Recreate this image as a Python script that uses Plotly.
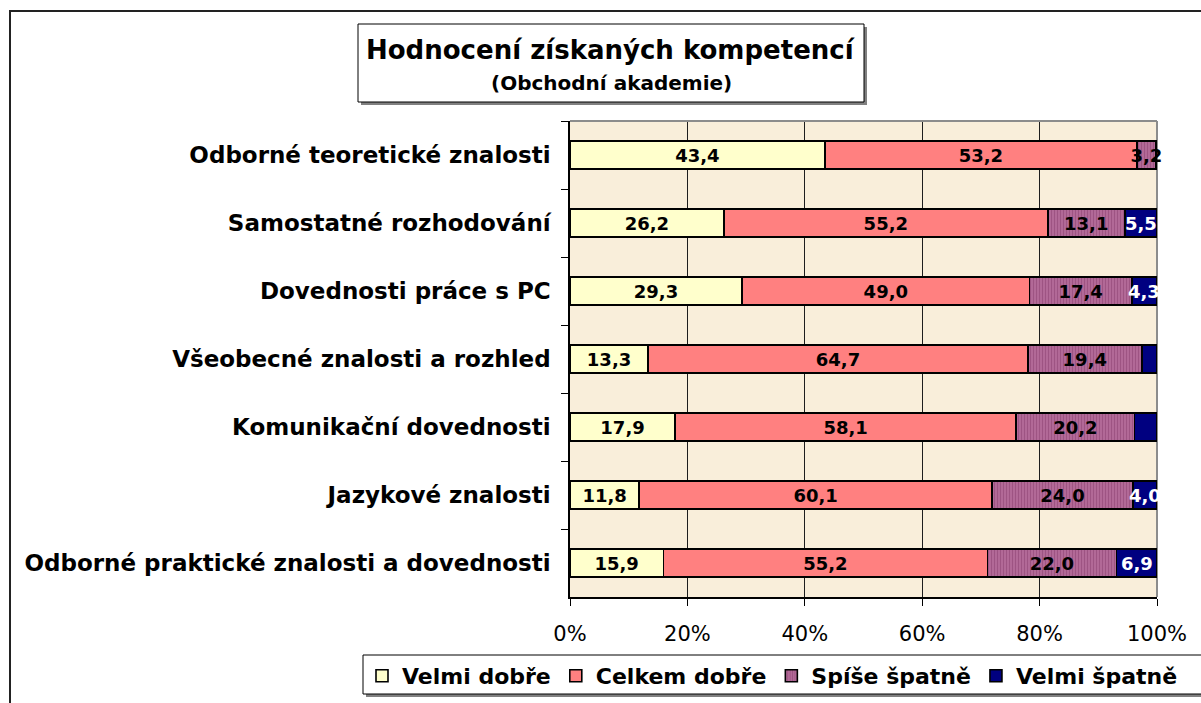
import plotly.graph_objects as go

# Survey categories, listed top to bottom
categories = [
    "Odborné teoretické znalosti",
    "Samostatné rozhodování",
    "Dovednosti práce s PC",
    "Všeobecné znalosti a rozhled",
    "Komunikační dovednosti",
    "Jazykové znalosti",
    "Odborné praktické znalosti a dovednosti",
]

# Shares of answers (%) for each category
velmi_dobre = [43.4, 26.2, 29.3, 13.3, 17.9, 11.8, 15.9]
celkem_dobre = [53.2, 55.2, 49.0, 64.7, 58.1, 60.1, 55.2]
spise_spatne = [3.2, 13.1, 17.4, 19.4, 20.2, 24.0, 22.0]
velmi_spatne = [0.2, 5.5, 4.3, 2.6, 3.8, 4.0, 6.9]
velmi_spatne_shown = [False, True, True, False, False, True, True]

series_names = ["Velmi dobře", "Celkem dobře", "Spíše špatně", "Velmi špatně"]

x_ticks = [0, 20, 40, 60, 80, 100]
x_tick_labels = ["0%", "20%", "40%", "60%", "80%", "100%"]

title_text = "Hodnocení získaných kompetencí"
subtitle_text = "(Obchodní akademie)"

# ---- geometry of the plotting area (pixels) ----
W, H = 1201, 703
PL, PR, PT, PB = 570, 1157, 121, 597


def px_x(x):
    return (x - PL) / (PR - PL)


def px_y(y):
    return (PB - y) / (PB - PT)


def fmt(v):
    return f"{v:.1f}".replace(".", ",")


BOLD = "DejaVu Sans"
LABEL_FONT = dict(family=BOLD, size=18, color="black", weight="bold")

fig = go.Figure()

line = dict(color="black", width=1.6)

fig.add_trace(go.Bar(
    name=series_names[0], y=categories, x=velmi_dobre, orientation="h",
    marker=dict(color="#FFFFCC", line=line),
    text=[fmt(v) for v in velmi_dobre],
))
fig.add_trace(go.Bar(
    name=series_names[1], y=categories, x=celkem_dobre, orientation="h",
    marker=dict(color="#FF8080", line=line),
    text=[fmt(v) for v in celkem_dobre],
))
fig.add_trace(go.Bar(
    name=series_names[2], y=categories, x=spise_spatne, orientation="h",
    marker=dict(color="#B66C9A", line=line,
                pattern=dict(shape="|", fgcolor="#853C6C", size=3, solidity=0.45,
                             fillmode="overlay")),
    text=[fmt(v) for v in spise_spatne],
))
fig.add_trace(go.Bar(
    name=series_names[3], y=categories, x=velmi_spatne, orientation="h",
    marker=dict(color="#000080", line=line),
))

for i, tr in enumerate(fig.data):
    tr.update(textposition="inside", insidetextanchor="middle", textangle=0,
              constraintext="none", cliponaxis=False, hoverinfo="skip")
    if i < 3:
        tr.update(insidetextfont=LABEL_FONT)

# value labels on the "Velmi špatně" segments, centred on each segment
annotations = []
for cat, a, b, c, d, shown in zip(categories, velmi_dobre, celkem_dobre, spise_spatne,
                                  velmi_spatne, velmi_spatne_shown):
    if not shown:
        continue
    annotations.append(dict(
        x=a + b + c + d / 2, y=cat, xref="x", yref="y", text=fmt(d), showarrow=False,
        xanchor="center", yanchor="middle",
        font=dict(family=BOLD, size=18, color="white", weight="bold"),
    ))

shapes = []
# outer frame of the chart
shapes.append(dict(type="rect", xref="paper", yref="paper",
                   x0=px_x(10), x1=px_x(1230), y0=px_y(11), y1=px_y(730),
                   line=dict(color="#222222", width=2), fillcolor="rgba(0,0,0,0)",
                   layer="below"))
# title box with shadow
shapes.append(dict(type="rect", xref="paper", yref="paper",
                   x0=px_x(361), x1=px_x(867), y0=px_y(27), y1=px_y(105),
                   line=dict(width=0), fillcolor="#808080", layer="below"))
shapes.append(dict(type="rect", xref="paper", yref="paper",
                   x0=px_x(358), x1=px_x(864), y0=px_y(24), y1=px_y(102),
                   line=dict(color="black", width=1), fillcolor="white", layer="below"))
# legend box with shadow
shapes.append(dict(type="rect", xref="paper", yref="paper",
                   x0=px_x(366), x1=px_x(1230), y0=px_y(658), y1=px_y(697),
                   line=dict(width=0), fillcolor="#808080", layer="below"))
shapes.append(dict(type="rect", xref="paper", yref="paper",
                   x0=px_x(363), x1=px_x(1228), y0=px_y(655), y1=px_y(694),
                   line=dict(color="black", width=1), fillcolor="white", layer="below"))
# plot area top and right edges
shapes.append(dict(type="line", xref="paper", yref="paper", x0=0, x1=1, y0=1, y1=1,
                   line=dict(color="#8C8C8C", width=2), layer="above"))
shapes.append(dict(type="line", xref="paper", yref="paper", x0=1, x1=1, y0=0, y1=1,
                   line=dict(color="#8C8C8C", width=2), layer="below"))

annotations += [
    dict(text=title_text, xref="paper", yref="paper", x=px_x(611), y=px_y(50),
         showarrow=False, xanchor="center", yanchor="middle",
         font=dict(family=BOLD, size=26, color="black", weight="bold")),
    dict(text=subtitle_text, xref="paper", yref="paper", x=px_x(611), y=px_y(83),
         showarrow=False, xanchor="center", yanchor="middle",
         font=dict(family=BOLD, size=20, color="black", weight="bold")),
]

fig.update_layout(
    width=W, height=H,
    margin=dict(l=PL, r=W - PR, t=PT, b=H - PB, pad=0, autoexpand=False),
    paper_bgcolor="white",
    plot_bgcolor="#F9EEDA",
    barmode="stack",
    bargap=0.58,
    showlegend=True,
    legend=dict(orientation="h", xref="paper", yref="paper",
                x=px_x(362), y=px_y(655), xanchor="left", yanchor="top",
                bgcolor="rgba(0,0,0,0)", borderwidth=0,
                font=dict(family=BOLD, size=22, color="black", weight="bold"),
                traceorder="normal"),
    shapes=shapes,
    annotations=annotations,
    hovermode=False,
)

fig.update_xaxes(
    range=[0, 100], tickvals=x_ticks, ticktext=x_tick_labels,
    showgrid=True, gridcolor="#1E1E1E", gridwidth=1,
    showline=True, linecolor="black", linewidth=1.5,
    ticks="outside", ticklen=7, tickcolor="black", tickwidth=1,
    ticklabelstandoff=10,
    tickfont=dict(family="DejaVu Sans", size=21, color="black"),
    zeroline=False, fixedrange=True,
)
fig.update_yaxes(
    categoryorder="array", categoryarray=categories, autorange="reversed",
    showgrid=False, showline=True, linecolor="black", linewidth=1.5,
    ticks="outside", ticklen=7, tickcolor="black", tickwidth=1,
    tickson="boundaries", ticklabelstandoff=13,
    tickfont=dict(family=BOLD, size=23, color="black", weight="bold"),
    fixedrange=True,
)

fig.write_html("out.html", config=dict(displayModeBar=False))
